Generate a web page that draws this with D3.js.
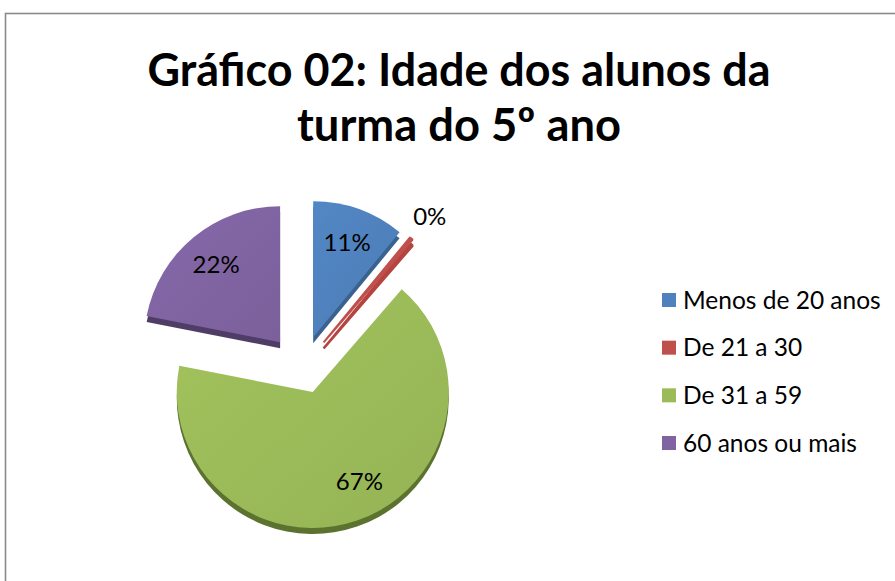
<!DOCTYPE html>
<html>
<head>
<meta charset="utf-8">
<script src="https://cdn.jsdelivr.net/npm/d3@7"></script>
<style>
  html, body { margin: 0; padding: 0; background: #ffffff; }
  svg { display: block; }
</style>
</head>
<body>
<svg id="chart" width="895" height="581"></svg>
<script>
// ---- data ----
const titleLines = ["Gráfico 02: Idade dos alunos da", "turma do 5º ano"];
const categories = ["Menos de 20 anos", "De 21 a 30", "De 31 a 59", "60 anos ou mais"];
const values = [11, 0.4, 67, 22];          // percent shares
const colors = ["#4F81BD", "#C0504D", "#9BBB59", "#8064A2"];
const sideColors = ["#3A6190", "#B5443F", "#5C722F", "#4F3D68"];

// ---- layout ----
const svg = d3.select("#chart");
const W = 895, H = 581;
const font = "Lato, 'Open Sans', 'DejaVu Sans', sans-serif";

// chart area border (extends past right / bottom edges)
svg.append("rect")
  .attr("x", 5.5).attr("y", 13.5)
  .attr("width", W + 20).attr("height", H + 20)
  .attr("fill", "#ffffff")
  .attr("stroke", "#8a8a8a").attr("stroke-width", 1.6);

// title
const title = svg.append("g").attr("font-family", font).attr("font-weight", 700)
  .attr("fill", "#000").attr("text-anchor", "middle");
const titleBase = [86, 141];
const titleWidths = [623, 324];
titleLines.forEach((t, i) => {
  title.append("text")
    .attr("x", 459).attr("y", titleBase[i])
    .attr("font-size", 46)
    .attr("textLength", titleWidths[i]).attr("lengthAdjust", "spacingAndGlyphs")
    .text(t);
});

// pie
const cx = 301.7, cy = 364.6, r = 136, depth = 6;
const explodeX = 34, explodeY = 29;
const pie = d3.pie().sort(null).value(d => d)(values);
const arc = d3.arc().innerRadius(0).outerRadius(r);

const defs = svg.append("defs");
colors.forEach((c, i) => {
  const g = defs.append("linearGradient").attr("id", "grad" + i)
    .attr("x1", "0%").attr("y1", "0%").attr("x2", "100%").attr("y2", "100%");
  g.append("stop").attr("offset", "0%").attr("stop-color", d3.color(c).brighter(0.12));
  g.append("stop").attr("offset", "100%").attr("stop-color", d3.color(c).darker(0.12));
});

function offset(d) {
  const mid = (d.startAngle + d.endAngle) / 2;
  return [cx + explodeX * Math.sin(mid), cy - explodeY * Math.cos(mid)];
}

const pieG = svg.append("g");
// sides (3D depth)
pieG.selectAll("path.side").data(pie).enter().append("path")
  .attr("class", "side")
  .attr("transform", d => { const o = offset(d); return `translate(${o[0]},${o[1] + depth})`; })
  .attr("d", arc)
  .attr("fill", (d, i) => sideColors[i])
  .attr("stroke", (d, i) => i === 1 ? sideColors[i] : "none")
  .attr("stroke-width", 2.5)
  .attr("stroke-linejoin", "bevel");
// tops
pieG.selectAll("path.top").data(pie).enter().append("path")
  .attr("class", "top")
  .attr("transform", d => { const o = offset(d); return `translate(${o[0]},${o[1]})`; })
  .attr("d", arc)
  .attr("fill", (d, i) => `url(#grad${i})`)
  .attr("stroke", (d, i) => i === 1 ? colors[i] : "none")
  .attr("stroke-width", 2)
  .attr("stroke-linejoin", "bevel");

// data labels
const labG = svg.append("g").attr("font-family", font).attr("font-size", 24)
  .attr("fill", "#000").attr("text-anchor", "middle");
pie.forEach((d, i) => {
  const o = offset(d);
  const mid = (d.startAngle + d.endAngle) / 2;
  const share = d.value / d3.sum(values) * 100;
  const lr = share < 3 ? r * 1.21 : r * 0.74;
  const ang = share > 50 ? mid - 0.15 : mid;
  labG.append("text")
    .attr("x", o[0] + lr * Math.sin(ang))
    .attr("y", o[1] - lr * Math.cos(ang))
    .attr("dy", "0.36em")
    .text(Math.round(d.value) + "%");
});

// legend
const legY = d3.scalePoint().domain(categories).range([300, 443]);
const leg = svg.append("g").attr("font-family", font).attr("font-size", 24.5).attr("fill", "#000");
categories.forEach((c, i) => {
  leg.append("rect")
    .attr("x", 662).attr("y", legY(c) - 7)
    .attr("width", 14).attr("height", 14)
    .attr("fill", colors[i]);
  leg.append("text")
    .attr("x", 683).attr("y", legY(c))
    .attr("dy", "0.36em")
    .text(c);
});
</script>
</body>
</html>
